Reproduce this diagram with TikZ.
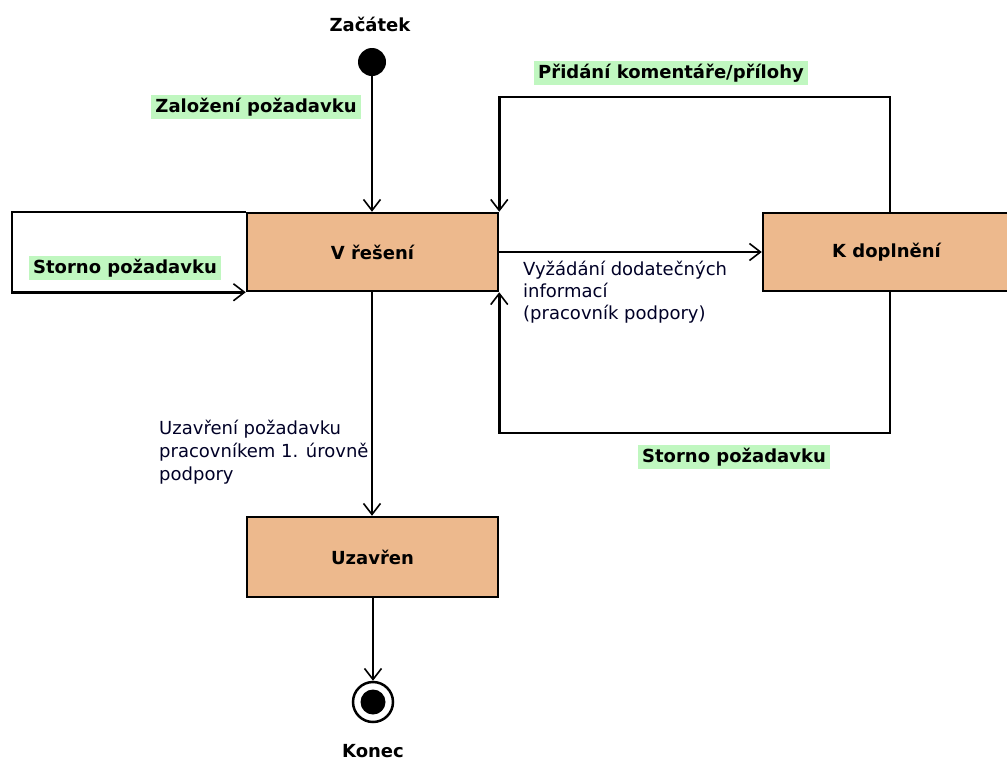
\documentclass[tikz,border=0pt]{standalone}
\usepackage{fontspec}
\setmainfont{DejaVu Sans}
\usetikzlibrary{arrows.meta,positioning}
\definecolor{statefill}{HTML}{EDB98D}
\definecolor{labelgreen}{HTML}{C0F7C0}

\begin{document}
\begin{tikzpicture}[x=1pt, y=-1pt, every node/.style={font=\fontsize{18}{22}\selectfont}]
\useasboundingbox (0,0) rectangle (1007,761);

% Define styles
\tikzstyle{state} = [rectangle, fill=statefill, draw=black, line width=2.5pt, minimum width=251pt, minimum height=78pt, font=\bfseries\fontsize{18}{22}\selectfont]
\tikzstyle{guard} = [fill=labelgreen, inner xsep=4pt, inner ysep=3pt, font=\bfseries\fontsize{18}{22}\selectfont]
\tikzstyle{note} = [align=left, inner sep=0pt, anchor=north west, text=black!85!blue]
\tikzstyle{arrow} = [line width=2.5pt, -{Straight Barb[length=11pt,width=17pt,line width=1.6pt]}]

% Nodes
\node[circle, fill=black, minimum size=28pt, inner sep=0pt] (start) at (372,62) {};
\node[font=\bfseries\fontsize{18}{22}\selectfont] (starttext) at (370,24) {Začátek};

\node[state] (reseni) at (372.5,252) {V řešení};
\node[state, minimum width=247pt] (doplneni) at (886.5,252) {K doplnění};
\node[state, minimum height=80pt] (uzavren) at (372.5,557) {Uzavřen};

\node[circle, draw=black, line width=2.5pt, fill=white, minimum size=40pt, inner sep=0pt] (end) at (373,702) {};
\node[circle, fill=black, minimum size=25pt, inner sep=0pt] (enddot) at (end) {};
\node[font=\bfseries\fontsize{18}{22}\selectfont] (endtext) at (373,751) {Konec};

% Corners of the loops
\coordinate (lx) at (12,0);
\coordinate (tr) at (890,97);
\coordinate (br) at (890,433);

% Transitions
\draw[arrow] (start) -- (reseni.north -| start);
\node[guard] (zalozeni) at (256,107) {Založení požadavku};

\draw[arrow] (reseni.north west) -- (lx |- reseni.north west) -- (lx |- reseni.south west) -- (reseni.south west);
\node[guard] (storno1) at (125,268) {Storno požadavku};

\draw[arrow] (reseni.east) -- (doplneni.west);
\node[note] (vyzadani) at (523,261) {Vyžádání dodatečných\\informací\\(pracovník podpory)};

\draw[arrow] (tr |- doplneni.north) -- (tr) -- (reseni.north east |- tr) -- (reseni.north east);
\node[guard] (pridani) at (671,73) {Přidání komentáře/přílohy};

\draw[arrow] (br |- doplneni.south) -- (br) -- (reseni.south east |- br) -- (reseni.south east);
\node[guard] (storno2) at (734,457) {Storno požadavku};

\draw[arrow] (reseni.south -| start) -- (uzavren.north -| start);
\node[note, font=\fontsize{18}{23}\selectfont] (uzavreni) at (159,420) {Uzavření požadavku\\pracovníkem 1. úrovně\\podpory};

\draw[arrow] (uzavren.south -| end) -- (end);

\end{tikzpicture}
\end{document}
